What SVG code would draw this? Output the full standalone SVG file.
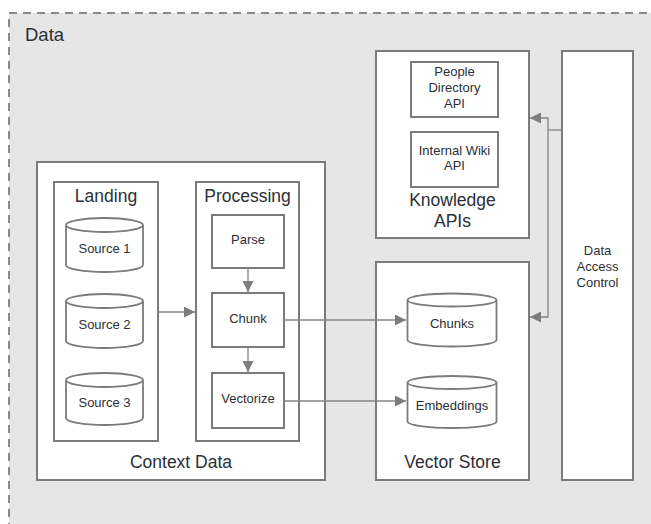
<svg xmlns="http://www.w3.org/2000/svg" width="651" height="524" viewBox="0 0 651 524">
  <defs>
    <style>
      .box { fill: #ffffff; stroke: #7b7b7b; stroke-width: 2; }
      .cyl { fill: #ffffff; stroke: #7b7b7b; stroke-width: 1.8; }
      .t { font-family: "Liberation Sans", Arial, sans-serif; fill: #2b2f36; text-anchor: middle; }
      .s13 { font-size: 13px; }
      .s17 { font-size: 17.5px; }
      .link { fill: none; stroke: #858585; stroke-width: 1.3; }
    </style>
    <marker id="arrow" viewBox="0 0 10 10" refX="10" refY="5" markerWidth="11" markerHeight="11" markerUnits="userSpaceOnUse" orient="auto">
      <path d="M0,0 L10,5 L0,10 Z" fill="#7d7d7d"/>
    </marker>
  </defs>

  <rect width="651" height="524" fill="#ffffff"/>

  <!-- outer data zone -->
  <g id="data">
    <rect x="9" y="13" width="660" height="530" fill="#e6e6e6" stroke="#8a8a8a" stroke-width="2" stroke-dasharray="8,6"/>
    <text class="t" x="25" y="41" font-size="18.5" style="text-anchor:start">Data</text>
  </g>

  <!-- context data -->
  <g id="context-data">
    <rect class="box" x="37" y="162" width="288" height="318"/>
    <text class="t s17" x="181" y="468">Context Data</text>
  </g>

  <g id="landing">
    <rect class="box" x="54" y="182" width="104" height="259"/>
    <text class="t s17" x="106" y="202">Landing</text>
  </g>

  <g id="source-1">
    <path class="cyl" d="M66,225 v40 a38.5,7 0 0 0 77,0 v-40 a38.5,7 0 0 0 -77,0 a38.5,7 0 0 0 77,0"/>
    <text class="t s13" x="104.5" y="253">Source 1</text>
  </g>
  <g id="source-2">
    <path class="cyl" d="M66,301 v40 a38.5,7 0 0 0 77,0 v-40 a38.5,7 0 0 0 -77,0 a38.5,7 0 0 0 77,0"/>
    <text class="t s13" x="104.5" y="329">Source 2</text>
  </g>
  <g id="source-3">
    <path class="cyl" d="M66,380 v38 a38.5,7 0 0 0 77,0 v-38 a38.5,7 0 0 0 -77,0 a38.5,7 0 0 0 77,0"/>
    <text class="t s13" x="104.5" y="407">Source 3</text>
  </g>

  <g id="processing">
    <rect class="box" x="196" y="182" width="103" height="259"/>
    <text class="t s17" x="247.5" y="202">Processing</text>
  </g>
  <g id="parse">
    <rect class="box" x="212" y="215" width="72" height="53"/>
    <text class="t s13" x="248" y="244">Parse</text>
  </g>
  <g id="chunk">
    <rect class="box" x="212" y="293" width="72" height="54"/>
    <text class="t s13" x="248" y="323">Chunk</text>
  </g>
  <g id="vectorize">
    <rect class="box" x="212" y="373" width="72" height="55"/>
    <text class="t s13" x="248" y="403">Vectorize</text>
  </g>

  <!-- knowledge apis -->
  <g id="knowledge-apis">
    <rect class="box" x="376" y="51" width="153" height="187"/>
    <text class="t s17" x="452.5" y="206">Knowledge</text>
    <text class="t s17" x="452.5" y="227">APIs</text>
  </g>
  <g id="people-directory-api">
    <rect class="box" x="411" y="62" width="87" height="55"/>
    <text class="t s13" x="454.5" y="76">People</text>
    <text class="t s13" x="454.5" y="92">Directory</text>
    <text class="t s13" x="454.5" y="108">API</text>
  </g>
  <g id="internal-wiki-api">
    <rect class="box" x="411" y="132" width="87" height="55"/>
    <text class="t s13" x="454.5" y="155">Internal Wiki</text>
    <text class="t s13" x="454.5" y="170">API</text>
  </g>

  <!-- vector store -->
  <g id="vector-store">
    <rect class="box" x="376" y="262" width="153" height="218"/>
    <text class="t s17" x="452.5" y="468">Vector Store</text>
  </g>
  <g id="chunks">
    <path class="cyl" d="M407.5,300 v40 a44.5,6.5 0 0 0 89,0 v-40 a44.5,6.5 0 0 0 -89,0 a44.5,6.5 0 0 0 89,0"/>
    <text class="t s13" x="452" y="328">Chunks</text>
  </g>
  <g id="embeddings">
    <path class="cyl" d="M407.5,382.5 v39 a44.5,6.5 0 0 0 89,0 v-39 a44.5,6.5 0 0 0 -89,0 a44.5,6.5 0 0 0 89,0"/>
    <text class="t s13" x="452" y="410">Embeddings</text>
  </g>

  <!-- access control -->
  <g id="data-access-control">
    <rect class="box" x="562" y="51" width="71" height="429"/>
    <text class="t s13" x="597.5" y="255">Data</text>
    <text class="t s13" x="597.5" y="271">Access</text>
    <text class="t s13" x="597.5" y="287">Control</text>
  </g>

  <!-- connectors -->
  <g id="connectors">
    <line class="link" x1="158" y1="312" x2="195" y2="312" marker-end="url(#arrow)"/>
    <line class="link" x1="248" y1="268" x2="248" y2="292" marker-end="url(#arrow)"/>
    <line class="link" x1="248" y1="347" x2="248" y2="372" marker-end="url(#arrow)"/>
    <line class="link" x1="284" y1="320" x2="406" y2="320" marker-end="url(#arrow)"/>
    <line class="link" x1="284" y1="401" x2="406" y2="401" marker-end="url(#arrow)"/>
    <line class="link" x1="562" y1="130" x2="548" y2="130"/>
    <polyline class="link" points="548,130 548,118 530,118" marker-end="url(#arrow)"/>
    <polyline class="link" points="548,130 548,317 530,317" marker-end="url(#arrow)"/>
  </g>
</svg>
